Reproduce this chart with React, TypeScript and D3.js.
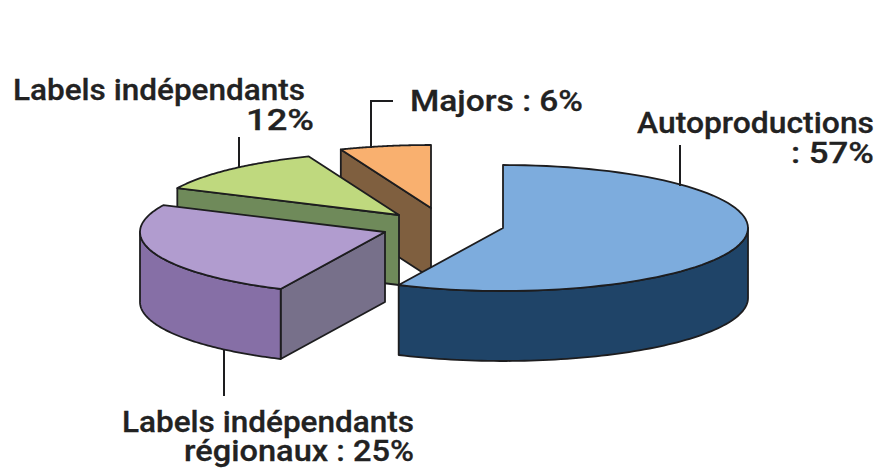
import React from "react";
import * as d3 from "d3";

const categories = ["Autoproductions", "Labels indépendants régionaux", "Labels indépendants", "Majors"];
const values = [57, 25, 12, 6];
const topColors = ["#7dacdd", "#b19ccf", "#bfd97e", "#f9b06f"];
const wallColors = ["#1f4468", "#866fa6", "#6f8a5a", "#7f5f3f"];
const sideColors = ["#1f4468", "#77708a", "#6f8a5a", "#7f5f3f"];
const apexX = [503, 385, 399, 431];
const apexY = [228, 232, 215, 208];

const RX = 245, RY = 63, DEPTH = 70;
const INK = "#1d1d1f";

const pieLayout = d3.pie<number>().sort(null).value((d) => d)(values);
const line = d3.line<[number, number]>();

function pt(i: number, a: number, dy = 0): [number, number] {
  return [apexX[i] + RX * Math.sin(a), apexY[i] - RY * Math.cos(a) + dy];
}
function arcPts(i: number, a0: number, a1: number, dy = 0): [number, number][] {
  const n = 80;
  return d3.range(n + 1).map((k) => pt(i, a0 + ((a1 - a0) * k) / n, dy));
}
function wallPath(i: number, a0: number, a1: number) {
  const top = arcPts(i, a0, a1, 0);
  const bottom = arcPts(i, a1, a0, DEPTH);
  return line([...top, ...bottom]) + "Z";
}

const labels = [
  { t: "Labels indépendants", x: 13, y: 100, w: 292 },
  { t: "12%", x: 246, y: 130, w: 68 },
  { t: "Majors : 6%", x: 410, y: 111, w: 173 },
  { t: "Autoproductions", x: 637, y: 133, w: 237 },
  { t: ": 57%", x: 791, y: 163, w: 83 },
  { t: "Labels indépendants", x: 122, y: 432, w: 292 },
  { t: "régionaux : 25%", x: 184, y: 461, w: 230 },
];
const leaders: [number, number][][] = [
  [[680, 145], [680, 186]],
  [[371, 148], [371, 101], [393, 101]],
  [[239, 137], [239, 168]],
  [[224, 350], [224, 396]],
];

export default function App() {
  const [blue, purple, green, orange] = pieLayout;
  const sw = 1.8;
  const common = { stroke: INK, strokeWidth: sw, strokeLinejoin: "round" as const };
  const top = (i: number) => {
    const s = pieLayout[i];
    return (
      <path
        d={line([[apexX[i], apexY[i]], ...arcPts(i, s.startAngle, s.endAngle)]) + "Z"}
        fill={topColors[i]}
        {...common}
      />
    );
  };
  const sidePoly = (i: number, a: number) => {
    const p = pt(i, a);
    const pts: [number, number][] = [
      [apexX[i], apexY[i]],
      p,
      [p[0], p[1] + DEPTH],
      [apexX[i], apexY[i] + DEPTH],
    ];
    return <path d={line(pts) + "Z"} fill={sideColors[i]} {...common} />;
  };
  return (
    <svg
      width={879}
      height={469}
      style={{ position: "absolute", left: 0, top: 0, background: "#fff" }}
      fontFamily="Roboto, sans-serif"
    >
      {/* Majors */}
      {sidePoly(3, orange.startAngle)}
      {top(3)}
      {/* Labels indépendants */}
      {sidePoly(2, green.startAngle)}
      {top(2)}
      {/* Régionaux */}
      {sidePoly(1, purple.startAngle)}
      <path d={wallPath(1, purple.startAngle, Math.PI * 1.5)} fill={wallColors[1]} {...common} />
      {top(1)}
      {/* Autoproductions */}
      <path d={wallPath(0, Math.PI / 2, blue.endAngle)} fill={wallColors[0]} {...common} />
      {top(0)}
      {leaders.map((l, i) => (
        <path key={i} d={line(l)!} fill="none" stroke={INK} strokeWidth={2} />
      ))}
      {labels.map((l, i) => (
        <text
          key={i}
          x={l.x}
          y={l.y}
          textLength={l.w}
          lengthAdjust="spacingAndGlyphs"
          fontSize={30}
          fontWeight={500}
          fill="#222"
          stroke="#222"
          strokeWidth={0.3}
        >
          {l.t}
        </text>
      ))}
    </svg>
  );
}
